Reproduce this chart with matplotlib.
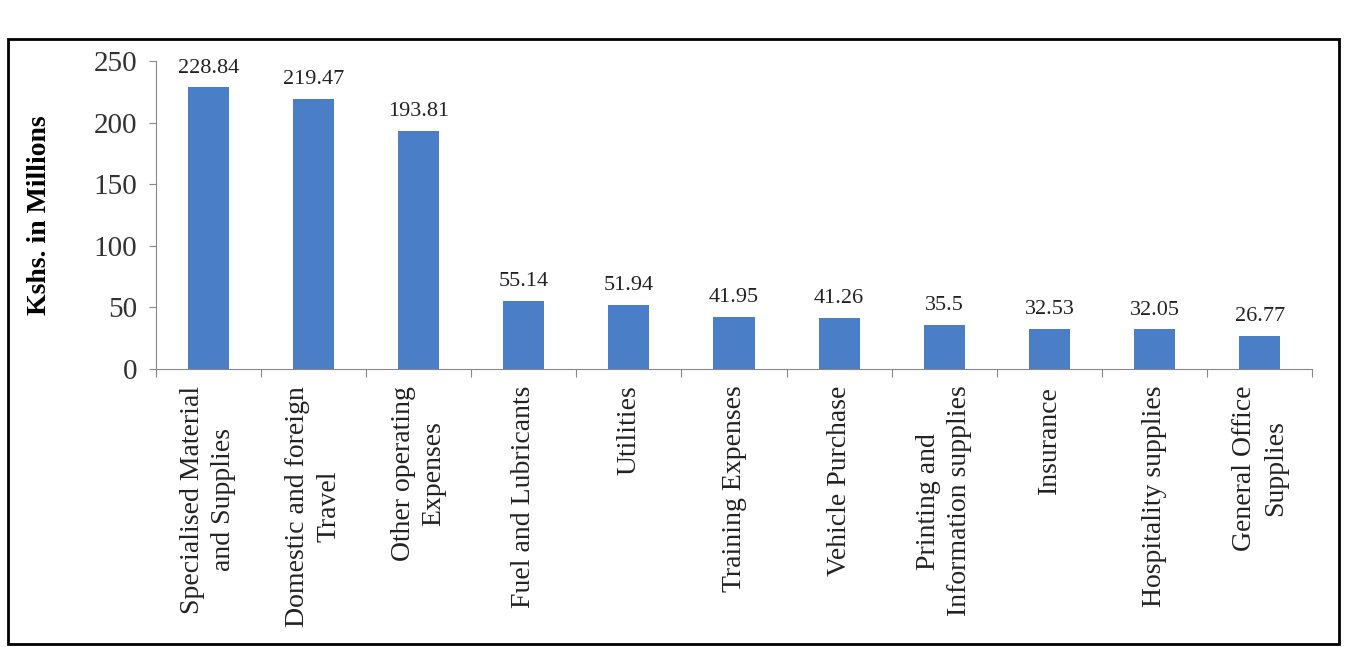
import matplotlib.pyplot as plt
import matplotlib.patches as mpatches

# data
categories = [
    "Specialised Material\nand Supplies",
    "Domestic and foreign\nTravel",
    "Other operating\nExpenses",
    "Fuel and Lubricants",
    "Utilities",
    "Training Expenses",
    "Vehicle Purchase",
    "Printing and\nInformation supplies",
    "Insurance",
    "Hospitality supplies",
    "General Office\nSupplies",
]
values = [228.84, 219.47, 193.81, 55.14, 51.94, 41.95, 41.26, 35.5, 32.53, 32.05, 26.77]
value_labels = ["228.84", "219.47", "193.81", "55.14", "51.94", "41.95",
                "41.26", "35.5", "32.53", "32.05", "26.77"]
yticks = [0, 50, 100, 150, 200, 250]

plt.rcParams['font.family'] = ['Liberation Serif', 'DejaVu Serif']

fig = plt.figure(figsize=(13.53, 6.47), dpi=100)
ax = fig.add_axes([0.115, 0.43, 0.855, 0.475])

x = list(range(len(categories)))
ax.bar(x, values, width=0.39, color='#4A7EC7', zorder=2)

for xi, v, lab in zip(x, values, value_labels):
    ax.annotate(lab, (xi, v), xytext=(0, 7), textcoords='offset points',
                ha='center', va='bottom', fontsize=16, color='#222222')

ax.set_xlim(-0.5, len(categories) - 0.5)
ax.set_ylim(0, 250)
ax.set_yticks(yticks)
ax.set_yticklabels([str(t) for t in yticks], fontsize=21, color='#333333')
ax.tick_params(axis='y', length=5, width=0.8, color='#888888', pad=8)

# category boundaries as tick marks on the x axis
ax.set_xticks([i - 0.5 for i in range(len(categories) + 1)])
ax.set_xticklabels([])
ax.tick_params(axis='x', length=6, width=0.8, color='#888888', direction='out')
for xi, name in zip(x, categories):
    ax.text(xi, -0.055, name, transform=ax.get_xaxis_transform(), rotation=90,
            ha='center', va='top', multialignment='center', fontsize=20,
            linespacing=1.3, color='#222222')

for s in ['top', 'right']:
    ax.spines[s].set_visible(False)
for s in ['left', 'bottom']:
    ax.spines[s].set_color('#888888')
    ax.spines[s].set_linewidth(0.8)

ax.set_ylabel("Kshs. in Millions", fontsize=20, fontweight='bold', labelpad=30)

# outer frame around the chart
frame = mpatches.Rectangle((0.006, 0.004), 0.984, 0.936, transform=fig.transFigure,
                           fill=False, edgecolor='black', linewidth=2.0)
fig.patches.append(frame)

fig.savefig('out.png', dpi=100)
